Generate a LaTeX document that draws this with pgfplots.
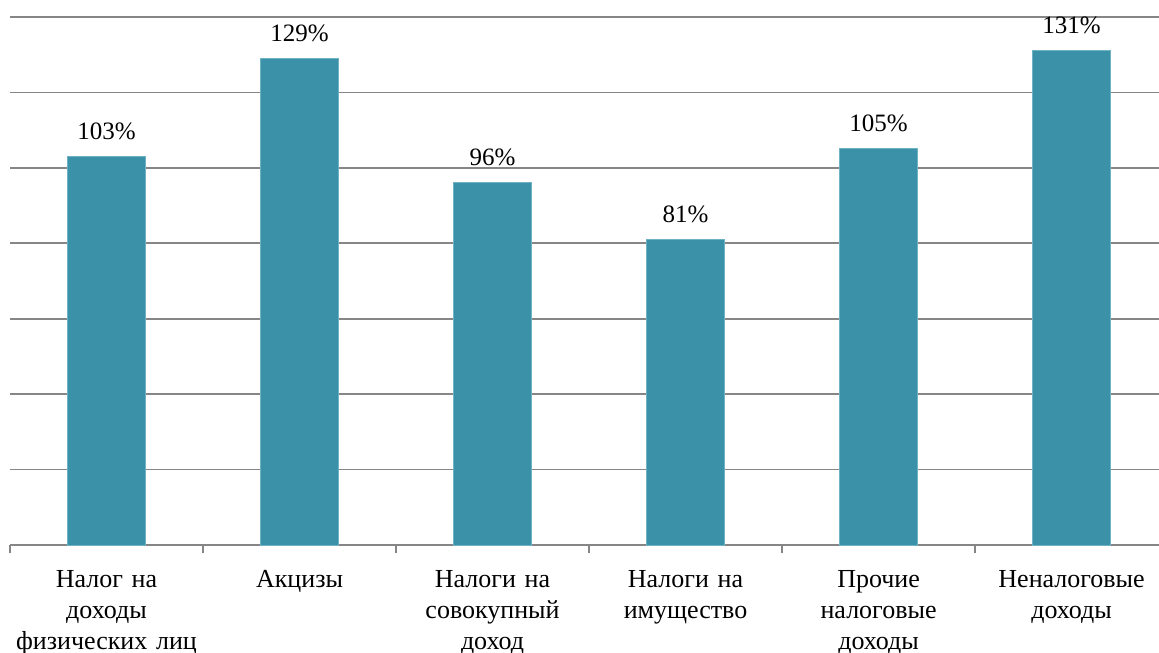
\documentclass[border=0pt]{standalone}
\usepackage{pgfplots}
\pgfplotsset{compat=1.18}
\usepackage{fontspec}
\setmainfont{Liberation Serif}
\definecolor{barc}{RGB}{58,145,168}
\definecolor{baredge}{RGB}{110,178,196}
\definecolor{gridc}{RGB}{134,134,134}
\begin{document}
\begin{tikzpicture}
\begin{axis}[
  name=ax, at={(0,0)}, anchor=south west,
  scale only axis,
  width=574.5pt, height=264pt,
  xmin=-0.5, xmax=5.453,
  ymin=0, ymax=140,
  enlargelimits=false,
  ytick={0,20,...,140},
  yticklabels={},
  ymajorgrids,
  major grid style={draw=gridc, line width=0.9pt},
  axis line style={draw=none},
  ytick style={draw=none},
  xtick={0,1,2,3,4,5},
  xticklabels={{Налог на\\доходы\\физических лиц},{Акцизы},{Налоги на\\совокупный\\доход},{Налоги на\\имущество},{Прочие\\налоговые\\доходы},{Неналоговые\\доходы}},
  minor xtick={-0.5,0.5,...,4.5},
  xtick pos=bottom,
  tick align=outside,
  major tick length=0pt,
  minor tick length=4pt,
  minor tick style={draw=gridc, line width=0.9pt},
  xticklabel style={anchor=north, inner sep=0pt, yshift=-12.3pt, text width=100pt, align=center, font=\fontsize{13}{15.5}\selectfont},
  ybar, bar width=0.4,
  nodes near coords={\pgfmathprintnumber[assume math mode=true]{\pgfplotspointmeta}\%},
  every node near coord/.append style={anchor=base, inner sep=0pt, yshift=8.5pt, font=\fontsize{12.5}{15}\selectfont, text=black},
]
\addplot[fill=barc, draw=baredge, line width=0.5pt] coordinates {(0,103) (1,129) (2,96) (3,81) (4,105) (5,131)};
\end{axis}
\pgfresetboundingbox
\path[use as bounding box] (-5pt,-53.5pt) rectangle (574.5pt,272.5pt);
\end{tikzpicture}
\end{document}
